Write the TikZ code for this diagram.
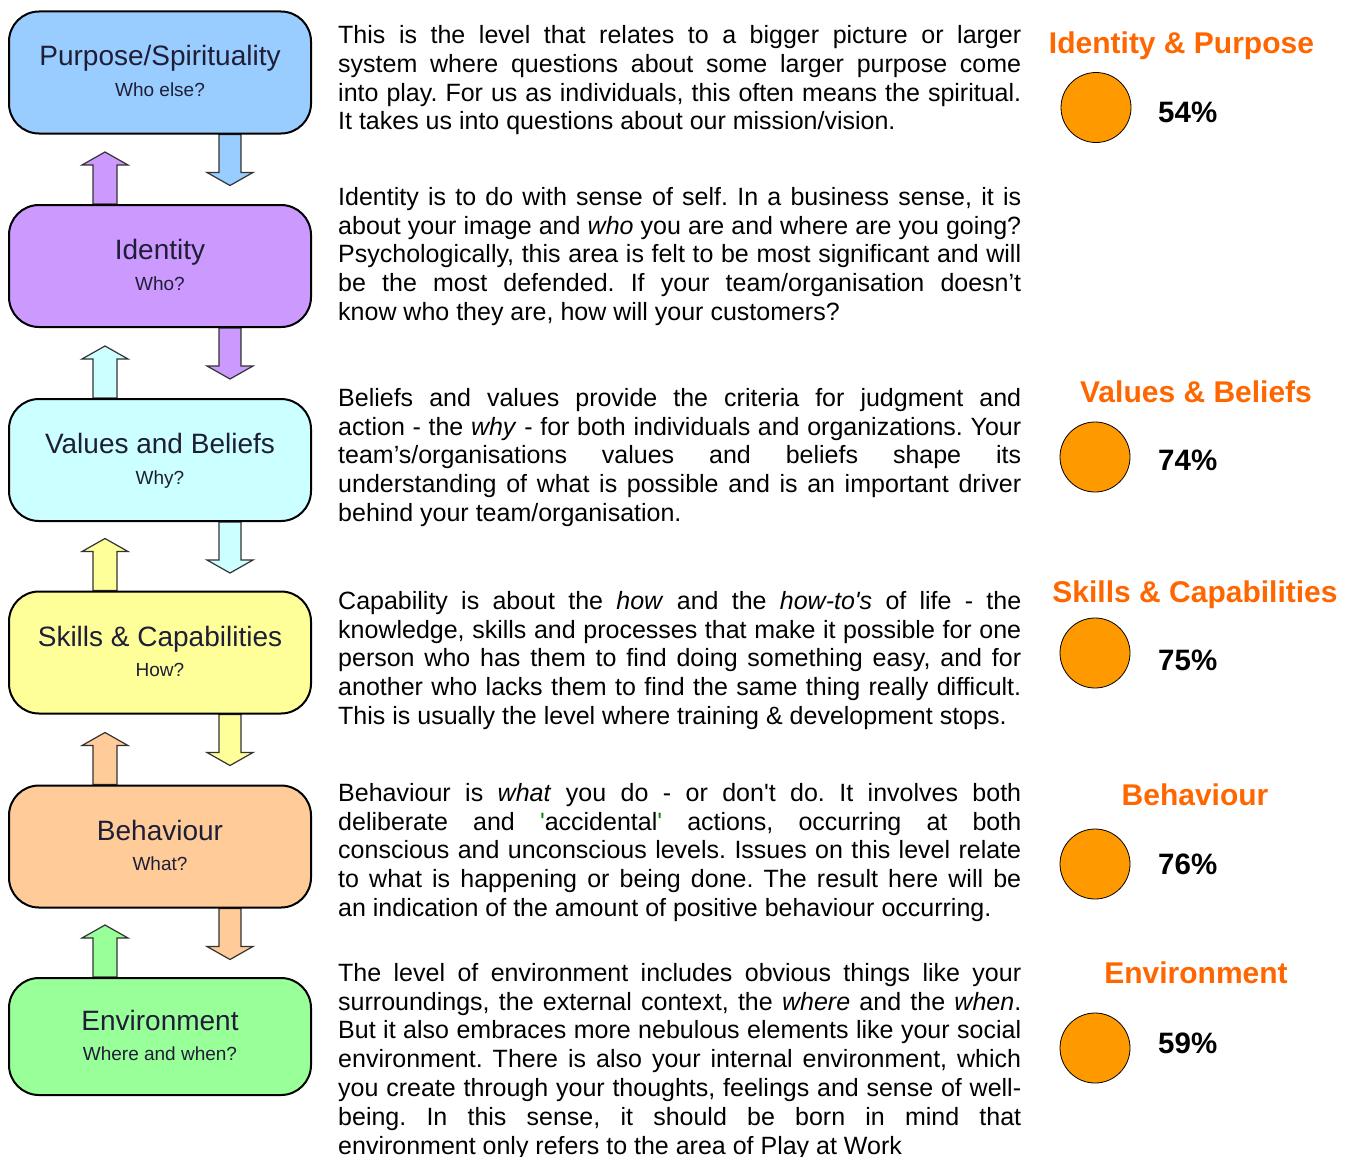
\documentclass[tikz,border=0pt]{standalone}
\usepackage{fontspec}
\setmainfont{Liberation Sans}
\newfontfamily\bodyfont{Liberation Sans}[Ligatures=TeXOff]
\usetikzlibrary{calc,backgrounds}
\definecolor{cP}{HTML}{99CCFF}
\definecolor{cI}{HTML}{CC99FF}
\definecolor{cV}{HTML}{CCFFFF}
\definecolor{cS}{HTML}{FFFF99}
\definecolor{cB}{HTML}{FFCC99}
\definecolor{cE}{HTML}{99FF99}
\definecolor{titlecol}{HTML}{1E1E36}
\definecolor{headcol}{HTML}{FF6600}
\definecolor{dotcol}{HTML}{FF9900}
\definecolor{arrowline}{HTML}{333333}
\definecolor{quotegreen}{HTML}{108010}
\newcommand{\jl}[1]{\makebox[683pt][s]{#1}}
\newcommand{\fs}{\rule{0pt}{25pt}}
\newcommand{\uparr}[2]{\draw[blk, fill=#2] ($(#1.north)+(-67,0)$) -- ++(0,-39) -- ++(-11,0) -- ++(23,-13) -- ++(23,13) -- ++(-11,0) -- ++(0,39) -- cycle;}
\newcommand{\dnarr}[2]{\draw[blk, fill=#2] ($(#1.south)+(59,0)$) -- ++(0,38) -- ++(-12,0) -- ++(23,13) -- ++(23,-13) -- ++(-12,0) -- ++(0,-38) -- cycle;}
\frenchspacing
\begin{document}
\begin{tikzpicture}[x=1pt,y=-1pt,
 level/.style={draw=black, line width=2pt, rounded corners=30pt, minimum width=302pt, minimum height=122pt, inner sep=0pt},
 ttl/.style={anchor=base, font=\fontsize{28}{32}\selectfont, text=titlecol, inner sep=0pt},
 subt/.style={anchor=base, font=\fontsize{19}{22}\selectfont, text=titlecol, inner sep=0pt},
 blk/.style={draw=arrowline, line width=1.2pt, line join=miter},
 para/.style={anchor=north west, inner sep=0pt, align=left, font=\bodyfont\fontsize{25}{28.8}\selectfont\frenchspacing},
 head/.style={anchor=base, font=\bfseries\fontsize{30}{34}\selectfont, text=headcol, inner sep=0pt},
 dot/.style={circle, draw=black, line width=0.8pt, fill=dotcol, minimum size=70pt, inner sep=0pt},
 pct/.style={anchor=base west, font=\bfseries\fontsize{29.5}{34}\selectfont, inner sep=0pt}]
\useasboundingbox (0,0) rectangle (1351,1156);

% level boxes
\node[level, fill=cP] (lp) at (160,72.5) {};
\node[level, fill=cI] (li) at (160,266) {};
\node[level, fill=cV] (lv) at (160,460) {};
\node[level, fill=cS] (ls) at (160,652.5) {};
\node[level, fill=cB] (lb) at (160,846.5) {};
\node[level, fill=cE, minimum height=117pt] (le) at (160,1036.5) {};

\node[ttl] (lpt) at ($(lp.center)+(0,-6.5)$) {Purpose/Spirituality};
\node[subt] (lps) at ($(lp.center)+(0,24)$) {Who else?};
\node[ttl] (lit) at ($(li.center)+(0,-6.5)$) {Identity};
\node[subt] (lis) at ($(li.center)+(0,24)$) {Who?};
\node[ttl] (lvt) at ($(lv.center)+(0,-6.5)$) {Values and Beliefs};
\node[subt] (lvs) at ($(lv.center)+(0,24)$) {Why?};
\node[ttl] (lst) at ($(ls.center)+(0,-6.5)$) {Skills \& Capabilities};
\node[subt] (lss) at ($(ls.center)+(0,24)$) {How?};
\node[ttl] (lbt) at ($(lb.center)+(0,-6.5)$) {Behaviour};
\node[subt] (lbs) at ($(lb.center)+(0,24)$) {What?};
\node[ttl] (let) at ($(le.center)+(0,-6.5)$) {Environment};
\node[subt] (les) at ($(le.center)+(0,24)$) {Where and when?};

\begin{scope}[on background layer]
\uparr{li}{cI}
\dnarr{lp}{cP}
\uparr{lv}{cV}
\dnarr{li}{cI}
\uparr{ls}{cS}
\dnarr{lv}{cV}
\uparr{lb}{cB}
\dnarr{ls}{cS}
\uparr{le}{cE}
\dnarr{lb}{cB}
\end{scope}

% paragraphs
\node[para] (t1) at (338,18.3) {\fs\jl{This is the level that relates to a bigger picture or larger}\\
\jl{system where questions about some larger purpose come}\\
\jl{into play. For us as individuals, this often means the spiritual.}\\
It takes us into questions about our mission/vision.};

\node[para] (t2) at (338,180) {\fs\jl{Identity is to do with sense of self. In a business sense, it is}\\
\jl{about your image and \textit{who} you are and where are you going?}\\
\jl{Psychologically, this area is felt to be most significant and will}\\
\jl{be the most defended. If your team/organisation doesn’t}\\
know who they are, how will your customers?};

\node[para] (t3) at (338,381) {\fs\jl{Beliefs and values provide the criteria for judgment and}\\
\jl{action - the \textit{why} - for both individuals and organizations. Your}\\
\jl{team’s/organisations values and beliefs shape its}\\
\jl{understanding of what is possible and is an important driver}\\
behind your team/organisation.};

\node[para] (t4) at (338,584) {\fs\jl{Capability is about the \textit{how} and the \textit{how-to's} of life - the}\\
\jl{knowledge, skills and processes that make it possible for one}\\
\jl{person who has them to find doing something easy, and for}\\
\jl{another who lacks them to find the same thing really difficult.}\\
This is usually the level where training \& development stops.};

\node[para] (t5) at (338,776) {\fs\jl{Behaviour is \textit{what} you do - or don't do. It involves both}\\
\jl{deliberate and {\color{quotegreen}'}accidental{\color{quotegreen}'} actions, occurring at both}\\
\jl{conscious and unconscious levels. Issues on this level relate}\\
\jl{to what is happening or being done. The result here will be}\\
an indication of the amount of positive behaviour occurring.};

\node[para] (t6) at (338,956) {\fs\jl{The level of environment includes obvious things like your}\\
\jl{surroundings, the external context, the \textit{where} and the \textit{when}.}\\
\jl{But it also embraces more nebulous elements like your social}\\
\jl{environment. There is also your internal environment, which}\\
\jl{you create through your thoughts, feelings and sense of well-}\\
\jl{being. In this sense, it should be born in mind that}\\
environment only refers to the area of Play at Work};

% right column
\node[head] (hp) at (1181.5,53) {Identity \& Purpose};
\node[dot] (dp) at (1096,107.5) {};
\node[pct] (pp) at (1158,122) {54\%};

\node[head] (hv) at (1196,402) {Values \& Beliefs};
\node[dot] (dv) at (1095,457) {};
\node[pct] (pv) at (1158,470) {74\%};

\node[head] (hs) at (1195,602) {Skills \& Capabilities};
\node[dot] (ds) at (1095,653) {};
\node[pct] (ps) at (1158,670) {75\%};

\node[head] (hb) at (1195,805) {Behaviour};
\node[dot] (db) at (1095,864) {};
\node[pct] (pb) at (1158,874) {76\%};

\node[head] (he) at (1196,983) {Environment};
\node[dot] (de) at (1095,1048) {};
\node[pct] (pe) at (1158,1053) {59\%};
\end{tikzpicture}
\end{document}
